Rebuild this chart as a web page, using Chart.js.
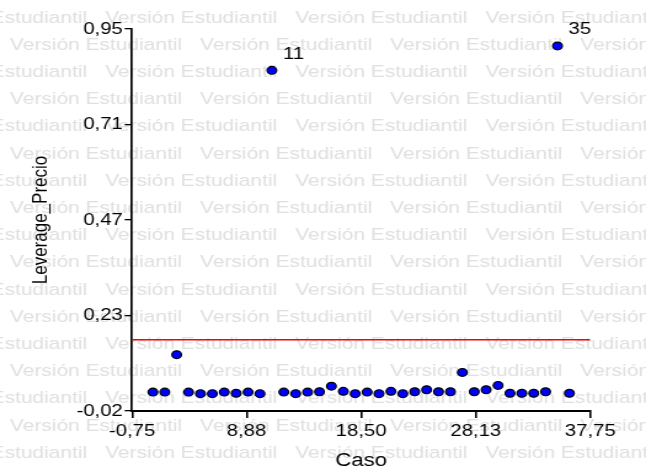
<!DOCTYPE html>
<html>
<head>
<meta charset="utf-8">
<script src="https://cdn.jsdelivr.net/npm/chart.js@4"></script>
<style>
  html, body { margin: 0; padding: 0; background: #fff; overflow: hidden; }
  /* the reference image is stretched horizontally, so draw narrow and widen */
  #wrap { width: 525px; height: 470px; transform: scaleX(1.2305); transform-origin: 0 0; }
</style>
</head>
<body>
<div id="wrap"><canvas id="levChart"></canvas></div>
<script>
const cases = [1, 2, 3, 4, 5, 6, 7, 8, 9, 10, 11, 12, 13, 14, 15, 16, 17, 18,
  19, 20, 21, 22, 23, 24, 25, 26, 27, 28, 29, 30, 31, 32, 33, 34, 35, 36];
const leverage = [0.028, 0.028, 0.123, 0.028, 0.024, 0.024, 0.028, 0.025, 0.028, 0.024,
  0.845, 0.028, 0.024, 0.028, 0.029, 0.043, 0.030, 0.024, 0.028, 0.024,
  0.030, 0.024, 0.029, 0.034, 0.029, 0.029, 0.078, 0.029, 0.034, 0.045,
  0.025, 0.025, 0.025, 0.029, 0.907, 0.025];
const labeledCases = [11, 35];
const refLevel = 0.161;
const xTickLabels = ["-0,75", "8,88", "18,50", "28,13", "37,75"];
const yTickLabels = ["-0,02", "0,23", "0,47", "0,71", "0,95"];
const xMin = -0.75, xMax = 37.75;
const yMin = -0.02, yMax = 0.95;

const FONT = "'Liberation Sans', Arial, sans-serif";

const watermark = {
  id: "watermark",
  beforeDraw(chart) {
    const ctx = chart.ctx;
    ctx.save();
    ctx.fillStyle = "#fff";
    ctx.fillRect(0, 0, chart.width, chart.height);
    ctx.fillStyle = "#e0e0e0";
    ctx.font = "17px " + FONT;
    ctx.textBaseline = "middle";
    const period = 154.5;
    for (let k = 0; k < 18; k++) {
      const y = 18 + k * 27.19;
      let x = k % 2 === 0 ? 85.4 - period : 8.1;
      for (; x < chart.width; x += period) ctx.fillText("Versión Estudiantil", x, y);
    }
    ctx.restore();
  }
};

const caseLabels = {
  id: "caseLabels",
  afterDatasetsDraw(chart) {
    const ctx = chart.ctx;
    const meta = chart.getDatasetMeta(1);
    ctx.save();
    ctx.fillStyle = "#000";
    ctx.font = "16.5px " + FONT;
    ctx.textBaseline = "middle";
    ctx.textAlign = "left";
    labeledCases.forEach(c => {
      const pt = meta.data[cases.indexOf(c)];
      ctx.fillText(String(c), pt.x + 9, pt.y - 16);
    });
    ctx.restore();
  }
};

new Chart(document.getElementById("levChart"), {
  type: "scatter",
  data: {
    datasets: [
      {
        type: "line",
        data: [{ x: xMin, y: refLevel }, { x: xMax, y: refLevel }],
        borderColor: "#ff0000",
        borderWidth: 1.5,
        pointRadius: 0,
      },
      {
        data: cases.map((c, i) => ({ x: c, y: leverage[i] })),
        backgroundColor: "#0000ff",
        borderColor: "#000",
        borderWidth: 1.2,
        pointRadius: 3.9,
        pointHoverRadius: 3.9,
      }
    ]
  },
  options: {
    responsive: true,
    maintainAspectRatio: false,
    animation: false,
    events: [],
    layout: { padding: { left: 0, top: 29, right: 45.3, bottom: 0 } },
    plugins: { legend: { display: false }, tooltip: { enabled: false } },
    scales: {
      x: {
        type: "linear",
        min: xMin, max: xMax,
        afterFit: s => { s.height = 59; },
        border: { color: "#000", width: 2 },
        grid: { drawOnChartArea: false, color: "#000", lineWidth: 1.6, tickLength: 7 },
        ticks: {
          stepSize: 9.625, color: "#000", padding: 4, maxRotation: 0,
          font: { family: FONT, size: 16.5 },
          callback: (v, i) => xTickLabels[i]
        },
        title: {
          display: true, text: "Caso", color: "#000",
          font: { family: FONT, size: 18, lineHeight: 1 },
          padding: 0
        }
      },
      y: {
        type: "linear",
        min: yMin, max: yMax,
        afterFit: s => { s.width = 107.3; },
        border: { color: "#000", width: 1.7 },
        grid: { drawOnChartArea: false, color: "#000", lineWidth: 1.3, tickLength: 6 },
        ticks: {
          stepSize: 0.2425, color: "#000", padding: 1.5,
          font: { family: FONT, size: 16.5 },
          callback: (v, i) => yTickLabels[i]
        },
        title: {
          display: true, text: "Leverage_Precio", color: "#000",
          font: { family: FONT, size: 17, lineHeight: 1 },
          padding: { top: 25, bottom: 0 }
        }
      }
    }
  },
  plugins: [watermark, caseLabels]
});
</script>
</body>
</html>
